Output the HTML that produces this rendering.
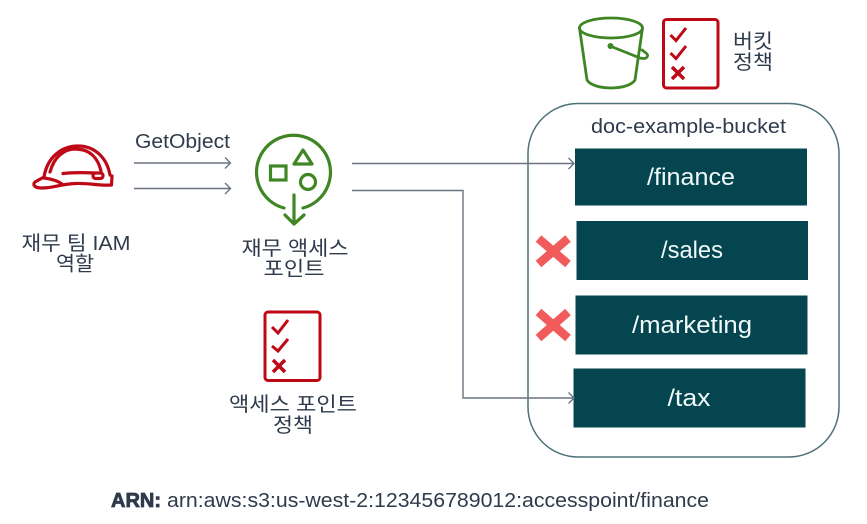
<!DOCTYPE html>
<html><head><meta charset="utf-8"><style>
html,body{margin:0;padding:0;background:#fff}
svg{display:block;filter:blur(.35px)}
text{font-family:"Liberation Sans","Noto Sans CJK KR",sans-serif;fill:#2f3b4c}
.c{text-anchor:middle}
.w{fill:#f2fafa}
</style></head><body>
<svg width="867" height="524" viewBox="0 0 867 524" xmlns="http://www.w3.org/2000/svg">
<rect width="867" height="524" fill="#fff"/>
<!-- container -->
<rect x="528" y="103.5" width="311" height="353.5" rx="50" fill="none" stroke="#4d7079" stroke-width="1.5"/>
<!-- buckets -->
<g fill="#04454f">
<rect x="575" y="148.5" width="232" height="57"/>
<rect x="576.5" y="221" width="231.5" height="59"/>
<rect x="575.5" y="295.5" width="232" height="59"/>
<rect x="573.5" y="368.5" width="232" height="59"/>
</g>
<g class="w" font-size="24">
<text class="c w" x="691" y="185" textLength="88" lengthAdjust="spacingAndGlyphs">/finance</text>
<text class="c w" x="692" y="258" textLength="62" lengthAdjust="spacingAndGlyphs">/sales</text>
<text class="c w" x="692" y="333" textLength="120" lengthAdjust="spacingAndGlyphs">/marketing</text>
<text class="c w" x="689" y="406" textLength="43" lengthAdjust="spacingAndGlyphs">/tax</text>
</g>
<text class="c" x="688.5" y="133" font-size="20.5" textLength="195" lengthAdjust="spacingAndGlyphs">doc-example-bucket</text>
<!-- connectors -->
<g fill="none" stroke="#6c7480" stroke-width="1.4">
<path d="M134 163H230M225 157.500l5.500 5.500-5.500 5.500"/>
<path d="M134 188.500H230M225 183l5.500 5.500-5.500 5.500"/>
<path d="M352 163.500H574M568.500 158l5.500 5.500-5.500 5.500"/>
<path d="M352 190.500H463V398H574M568.500 392.500l5.500 5.500-5.500 5.500"/>
</g>
<text x="135" y="148" font-size="20" textLength="95" lengthAdjust="spacingAndGlyphs">GetObject</text>
<!-- red crosses -->
<g stroke="#f15b5b" stroke-width="8.500" fill="none">
<path d="M538.500 238.500L568 264M568 238.500L538.500 264"/>
<path d="M538.500 312L568 338M568 312L538.500 338"/>
</g>
<!-- hard hat -->
<g fill="none" stroke="#bf0816" stroke-width="3.200" stroke-linejoin="round" stroke-linecap="round">
<path d="M44 177C47 158 61 146 78 146C95 146 107 158 110 175"/>
<path d="M50 172C54 157 64 149 75 149C90 149 98 158 101 171"/>
<path d="M44 177L35 182C32 185 35 188 42 188C54 188 60 184 76 183.500C90 183 100 186 111.500 185L112 176"/>
<path d="M44 178C52 179 58 181 62 184"/>
<path d="M63 173.500C75 172 85 172.500 95 173"/>
<rect x="93" y="173" width="10" height="5.500" rx="2.500"/>
</g>
<!-- access point icon -->
<g fill="none" stroke="#3f8624" stroke-width="3.200">
<path d="M284 208A37 37 0 1 1 303 208" stroke-linecap="round"/>
<rect x="270.500" y="166" width="15.500" height="14"/>
<path d="M303 150L312 164H294Z" stroke-linejoin="round"/>
<circle cx="308" cy="182" r="7.500"/>
<path d="M294 195V224M285 215L294 224L304 215" stroke-linecap="round" stroke-linejoin="round"/>
</g>
<!-- bucket -->
<g fill="none" stroke="#3f8624" stroke-width="2.800" stroke-linecap="round" stroke-linejoin="round">
<ellipse cx="611" cy="28" rx="31.500" ry="10"/>
<path d="M579.500 28L587 80C590 85 600 88 611 88C622 88 632 85 635 80L642.500 28"/>
<path d="M610 46L640 58C648 60 649 55 646 53L642 50"/>
</g>
<circle cx="610.500" cy="46" r="3" fill="#3f8624"/>
<!-- checklists -->
<g fill="none" stroke="#bf0816" stroke-width="3">
<rect x="663.500" y="19.500" width="54.500" height="68.500" rx="3"/>
<path d="M670.500 35L676 40.500L686 28M670.500 53L676 58.500L686 46"/>
<path d="M672 67L684 79M684 67L672 79" stroke-width="3.500"/>
</g>
<g fill="none" stroke="#bf0816" stroke-width="3">
<rect x="265" y="312" width="55" height="68.500" rx="3"/>
<path d="M272 327L278 333L288 320M272 346L278 351L288 339"/>
<path d="M273 360L285 372M285 360L273 372" stroke-width="3.500"/>
</g>
<!-- labels -->
<g font-size="20">
<text class="c" x="76" y="250" textLength="109" lengthAdjust="spacingAndGlyphs">재무 팀 IAM</text>
<text class="c" x="75" y="270.500" textLength="38" lengthAdjust="spacingAndGlyphs">역할</text>
<text class="c" x="295" y="255" textLength="107" lengthAdjust="spacingAndGlyphs">재무 액세스</text>
<text class="c" x="294" y="275.500" textLength="61" lengthAdjust="spacingAndGlyphs">포인트</text>
<text class="c" x="293" y="411" textLength="128" lengthAdjust="spacingAndGlyphs">액세스 포인트</text>
<text class="c" x="293" y="432" textLength="40" lengthAdjust="spacingAndGlyphs">정책</text>
<text class="c" x="753" y="48" textLength="40" lengthAdjust="spacingAndGlyphs">버킷</text>
<text class="c" x="753" y="69" textLength="40" lengthAdjust="spacingAndGlyphs">정책</text>
</g>
<text x="111" y="507" font-size="20" font-weight="bold" textLength="50" lengthAdjust="spacingAndGlyphs" stroke="#2f3b4c" stroke-width=".8">ARN:</text>
<text x="167" y="507" font-size="20" textLength="542" lengthAdjust="spacingAndGlyphs">arn:aws:s3:us-west-2:123456789012:accesspoint/finance</text>
</svg>
</body></html>
